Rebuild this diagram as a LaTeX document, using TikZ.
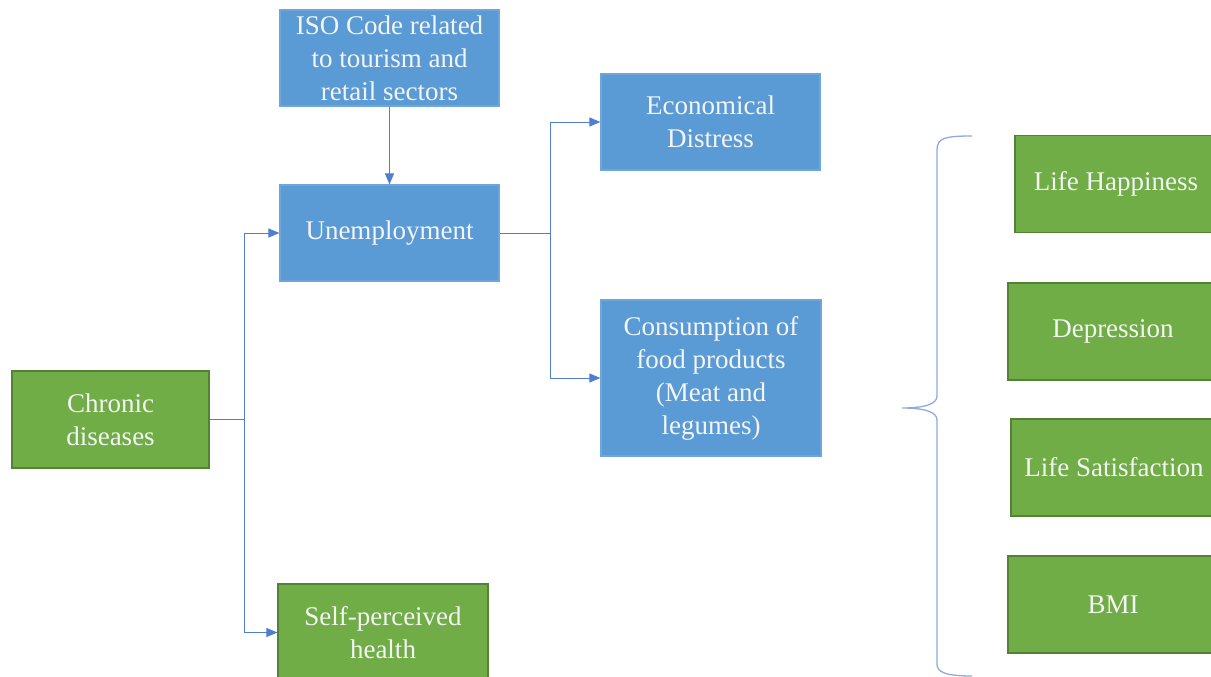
\documentclass[tikz,border=0pt]{standalone}
\usepackage{fontspec}
\setmainfont{Liberation Serif}
\usetikzlibrary{arrows.meta}
\definecolor{boxblue}{RGB}{91,155,213}
\definecolor{edgeblue}{RGB}{110,165,218}
\definecolor{boxgreen}{RGB}{112,173,71}
\definecolor{edgegreen}{RGB}{84,130,53}
\definecolor{linkblue}{RGB}{80,125,205}
\definecolor{bracecol}{RGB}{143,170,219}
\definecolor{textwhite}{RGB}{244,244,244}
\begin{document}
\begin{tikzpicture}[x=1pt,y=-1pt,
    box/.style={rectangle,align=center,inner sep=2pt,text=textwhite,
        font=\fontsize{27}{33}\selectfont,line width=1.2pt},
    bluebox/.style={box,fill=boxblue,draw=edgeblue,minimum width=219pt,minimum height=96pt},
    greenbox/.style={box,fill=boxgreen,draw=edgegreen,minimum height=97pt},
    link/.style={draw=linkblue,line width=1pt},
    arrow/.style={link,-{Triangle[length=11pt,width=9pt]}}]
    \useasboundingbox (0,0) rectangle (1211,677);
    \clip (0,0) rectangle (1211,677);
    \node[bluebox] (iso) at (389.5,58) {ISO Code related\\to tourism and\\retail sectors};
    \node[bluebox] (unemp) at (389.5,233) {Unemployment};
    \node[bluebox] (econ) at (710.5,122) {Economical\\Distress};
    \node[bluebox,minimum width=220pt,minimum height=156pt] (food) at (711,378) {Consumption of\\food products\\(Meat and\\legumes)};
    \node[greenbox,minimum width=197pt] (chronic) at (110.5,419.5) {Chronic\\diseases};
    \node[greenbox,minimum width=210pt] (self) at (383,632.5) {Self-perceived\\health};
    \node[greenbox,minimum width=202pt] (happy) at (1116,184) {Life Happiness};
    \node[greenbox,minimum width=210pt] (depr) at (1113,331.5) {Depression};
    \node[greenbox,minimum width=206pt] (satis) at (1114,467.5) {Life Satisfaction};
    \node[greenbox,minimum width=210pt] (bmi) at (1113,604.5) {BMI};
    \coordinate (split) at (244,419.5);
    \coordinate (fork) at (550,233);
    \draw[arrow] (iso) -- (unemp);
    \draw[link] (chronic.east) -- (split);
    \draw[arrow] (split) |- (unemp.west);
    \draw[arrow] (split) |- (self.west);
    \draw[link] (unemp.east) -- (fork);
    \draw[arrow] (fork) |- (econ.west);
    \draw[arrow] (fork) |- (food.west);
    \draw[bracecol,line width=1.3pt] (972,136) .. controls (945,136) and (937,138) .. (937,150)
        -- (937,396) .. controls (937,404) and (925,408) .. (902,408)
        .. controls (925,408) and (937,412) .. (937,420) -- (937,664)
        .. controls (937,672) and (945,676) .. (972,676);
\end{tikzpicture}
\end{document}
